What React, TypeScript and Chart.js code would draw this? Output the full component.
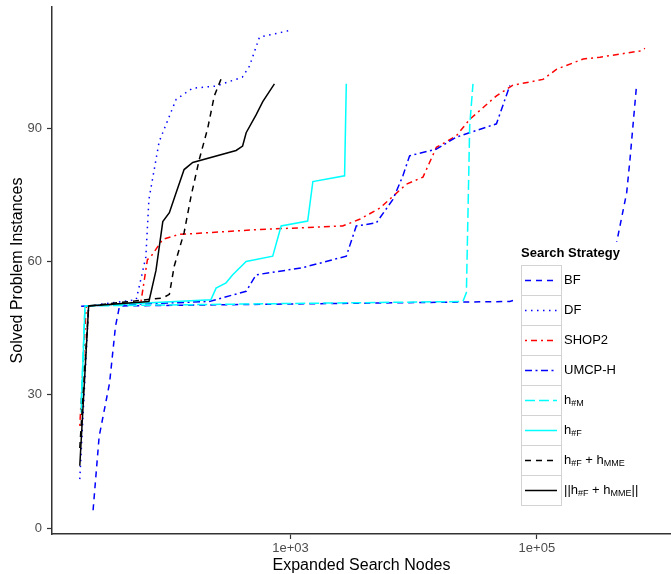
import React, { useEffect, useRef } from 'react';
import { Chart, registerables } from 'chart.js';

Chart.register(...registerables);

// ---------- data ----------
const seriesNames = ['BF', 'DF', 'SHOP2', 'UMCP-H', 'h#M', 'h#F', 'h#F + hMME', '||h#F + hMME||'];

const bfNodes = [25, 28, 34, 38, 41, 60300, 400000, 445000, 536000, 570000, 646000];
const bfSolved = [4, 20.6, 32.6, 45.4, 50, 51, 58, 64.4, 75.5, 83, 100];

const dfNodes = [19.5, 23, 56, 67, 71, 86, 118, 160, 249, 407, 465, 560, 980];
const dfSolved = [11, 50, 51.4, 61, 74, 87, 96.5, 99, 99.5, 101.5, 104, 110.5, 112];

const shop2Nodes = [19.5, 22, 61, 69, 74, 92, 125, 560, 2650, 3640, 5300, 6380, 8730, 11900, 15300, 22200, 28500, 47000, 64100, 112000, 145000, 238000, 325000, 687000, 755000];
const shop2Solved = [23, 50, 50.7, 60.4, 61.2, 65, 66.1, 67.2, 68, 69.5, 72, 74, 77.4, 79, 85.7, 88.3, 92, 97.3, 99.7, 101, 103.3, 105.6, 106, 107.4, 108];

const umcpNodes = [20, 23, 219, 437, 526, 1250, 2840, 3420, 4980, 6790, 8180, 9270, 15300, 22200, 47000, 60300];
const umcpSolved = [49.9, 50, 51, 53.3, 57, 58.6, 61.2, 68, 68.7, 74, 79.3, 83.8, 85.3, 88, 91, 99.6];

const hmNodes = [20, 21.5, 25100, 26800, 28500, 30300];
const hmSolved = [28, 50, 51, 53, 90.5, 100];

const hfNodes = [20, 21.5, 226, 249, 300, 340, 437, 718, 840, 1380, 1520, 2750, 2840];
const hfSolved = [26, 50, 51.4, 54, 55.2, 57, 60, 61.2, 68, 69.1, 78, 79.3, 100];

const hfmNodes = [19.5, 23, 92, 104, 114, 137, 156, 182, 213, 241, 282];
const hfmSolved = [18, 50, 51.8, 52.6, 59, 66.5, 74.7, 83, 90, 97.3, 102];

const nhfmNodes = [19.5, 23, 71, 81, 92, 104, 118, 137, 161, 362, 409, 437, 526, 596, 741];
const nhfmSolved = [14, 50, 51, 58, 69, 71, 75.5, 80.7, 82.3, 85, 86, 89, 93, 96, 100];

const xTicks = [1000, 100000];
const xTickLabels = ['1e+03', '1e+05'];
const yTicks = [0, 30, 60, 90];
const yTickLabels = ['0', '30', '60', '90'];

const xTitle = 'Expanded Search Nodes';
const yTitle = 'Solved Problem Instances';
const legendTitle = 'Search Strategy';

// legend label pieces (text, subscript?)
const legendPieces: [string, boolean][][] = [
  [['BF', false]],
  [['DF', false]],
  [['SHOP2', false]],
  [['UMCP-H', false]],
  [['h', false], ['#M', true]],
  [['h', false], ['#F', true]],
  [['h', false], ['#F', true], [' + h', false], ['MME', true]],
  [['||h', false], ['#F', true], [' + h', false], ['MME', true], ['||', false]],
];

// ---------- styles ----------
const FONT = '"Liberation Sans", Arial, Helvetica, sans-serif';
const colors = ['#0000FF', '#0000FF', '#FF0000', '#0000FF', '#00FFFF', '#00FFFF', '#000000', '#000000'];
const dashes = [[6, 5], [1.5, 4.5], [2, 4, 6, 4], [7, 3.5, 2, 3.5], [10, 4], [], [6, 5], []];

const legendPlugin = {
  id: 'customLegend',
  afterDraw(chart: any) {
    const ctx = chart.ctx as CanvasRenderingContext2D;
    ctx.save();
    ctx.fillStyle = '#ffffff';
    ctx.fillRect(513, 242, 150, 268);
    ctx.fillStyle = '#000';
    ctx.font = `bold 13px ${FONT}`;
    ctx.textBaseline = 'middle';
    ctx.textAlign = 'left';
    ctx.fillText(legendTitle, 521, 253);
    const x0 = 521, w = 40, h = 30, y0 = 265;
    for (let i = 0; i < seriesNames.length; i++) {
      const y = y0 + i * h;
      ctx.strokeStyle = '#d3d3d3';
      ctx.lineWidth = 1;
      ctx.setLineDash([]);
      ctx.strokeRect(x0 + 0.5, y + 0.5, w, h);
      ctx.strokeStyle = colors[i];
      ctx.lineWidth = 1.5;
      ctx.setLineDash(dashes[i]);
      ctx.beginPath();
      ctx.moveTo(x0 + 4, y + h / 2 + 0.5);
      ctx.lineTo(x0 + 36, y + h / 2 + 0.5);
      ctx.stroke();
      ctx.setLineDash([]);
      let tx = 564;
      ctx.fillStyle = '#000';
      for (const [txt, sub] of legendPieces[i]) {
        ctx.font = sub ? `9px ${FONT}` : `13px ${FONT}`;
        ctx.fillText(txt, tx, y + h / 2 + (sub ? 4 : 0));
        tx += ctx.measureText(txt).width;
      }
    }
    ctx.restore();
  },
};

const allNodes = [bfNodes, dfNodes, shop2Nodes, umcpNodes, hmNodes, hfNodes, hfmNodes, nhfmNodes];
const allSolved = [bfSolved, dfSolved, shop2Solved, umcpSolved, hmSolved, hfSolved, hfmSolved, nhfmSolved];

export default function App() {
  const ref = useRef<HTMLCanvasElement>(null);
  useEffect(() => {
    if (!ref.current) return;
    const datasets = seriesNames.map((name, i) => ({
      label: name,
      data: allNodes[i].map((x, j) => ({ x, y: allSolved[i][j] })),
      borderColor: colors[i],
      backgroundColor: colors[i],
      borderWidth: 1.5,
      borderDash: dashes[i],
      pointRadius: 0,
      fill: false,
      tension: 0,
      order: seriesNames.length - i,
    }));
    const chart = new Chart(ref.current, {
      type: 'line',
      data: { datasets },
      options: {
        animation: false,
        responsive: false,
        maintainAspectRatio: false,
        layout: { padding: { top: 7, left: 0, right: 0, bottom: 0 } },
        plugins: { legend: { display: false }, tooltip: { enabled: false } },
        scales: {
          x: {
            type: 'logarithmic',
            bounds: 'data',
            min: 11.6,
            max: 1227000,
            afterBuildTicks: (s: any) => { s.ticks = xTicks.map((v) => ({ value: v })); },
            afterFit: (s: any) => { s.height = 40; s.paddingLeft = 0; s.paddingRight = 0; },
            ticks: {
              autoSkip: false,
              maxRotation: 0,
              padding: 2,
              color: '#4d4d4d',
              font: { size: 13, family: FONT },
              callback: (_v: any, idx: number) => xTickLabels[idx],
            },
            grid: { drawOnChartArea: false, drawTicks: true, tickLength: 5, tickColor: '#333', tickWidth: 1.2 },
            border: { display: true, color: '#333', width: 1.5 },
            title: { display: true, text: xTitle, color: '#000', font: { size: 16, family: FONT, lineHeight: 1 }, padding: { top: 0, bottom: 0 } },
          },
          y: {
            type: 'linear',
            bounds: 'data',
            min: -1.35,
            max: 117.3,
            afterBuildTicks: (s: any) => { s.ticks = yTicks.map((v) => ({ value: v })); },
            afterFit: (s: any) => { s.width = 52; s.paddingTop = 0; s.paddingBottom = 0; },
            ticks: {
              autoSkip: false,
              padding: 5,
              color: '#4d4d4d',
              font: { size: 13, family: FONT },
              callback: (_v: any, idx: number) => yTickLabels[idx],
            },
            grid: { drawOnChartArea: false, drawTicks: true, tickLength: 5, tickColor: '#333', tickWidth: 1.2 },
            border: { display: true, color: '#333', width: 1.5 },
            title: { display: true, text: yTitle, color: '#000', font: { size: 16, family: FONT, lineHeight: 1 }, padding: { top: 10, bottom: 0 } },
          },
        },
      },
      plugins: [legendPlugin],
    } as any);
    return () => chart.destroy();
  }, []);
  return (
    <div style={{ position: 'fixed', left: 0, top: 0, width: 671, height: 574, background: '#fff' }}>
      <canvas ref={ref} width={671} height={574} style={{ width: 671, height: 574, display: 'block' }} />
    </div>
  );
}
